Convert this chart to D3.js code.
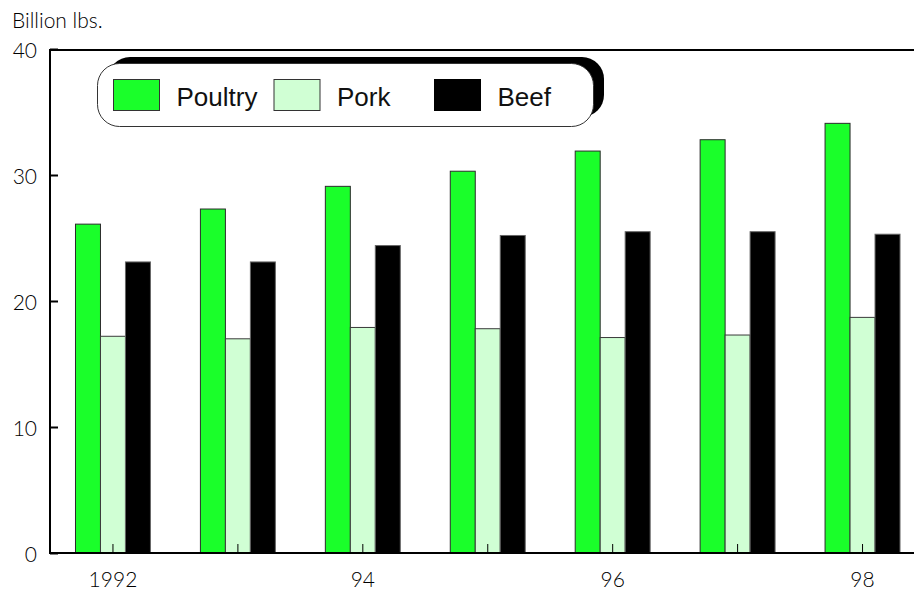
<!DOCTYPE html>
<html>
<head>
<meta charset="utf-8">
<script src="https://cdn.jsdelivr.net/npm/d3@7"></script>
<style>
  html, body { margin: 0; padding: 0; background: #fff; }
  svg { display: block; }
</style>
</head>
<body>
<svg id="chart" width="914" height="590"></svg>
<script>
// U.S. meat production, billion lbs.
const years = [1992, 1993, 1994, 1995, 1996, 1997, 1998];
const yearLabels = ["1992", "", "94", "", "96", "", "98"];
const seriesNames = ["Poultry", "Pork", "Beef"];
const poultry = [26.1, 27.3, 29.1, 30.3, 31.9, 32.8, 34.1];
const pork = [17.2, 17.0, 17.9, 17.8, 17.1, 17.3, 18.7];
const beef = [23.1, 23.1, 24.4, 25.2, 25.5, 25.5, 25.3];
const yTicks = [0, 10, 20, 30, 40];

const seriesValues = { Poultry: poultry, Pork: pork, Beef: beef };
const fills = { Poultry: "#1aff2a", Pork: "#d0ffd4", Beef: "#000000" };
const strokes = { Poultry: "#2b2b2b", Pork: "#3a3a3a", Beef: "#666666" };

const svg = d3.select("#chart");
const plotLeft = 50, plotTop = 50, plotBottom = 553, plotRight = 914;

const y = d3.scaleLinear().domain([0, 40]).range([plotBottom, 49]);
const x0 = d3.scaleBand().domain(years).range([50.5, 925])
  .paddingInner(0.4).paddingOuter(0.2);
const x1 = d3.scaleBand().domain(seriesNames).range([0, x0.bandwidth()]);

const tickFont = "Lato, 'DejaVu Sans', sans-serif";

// Unit label
svg.append("text")
  .attr("x", 12).attr("y", 28)
  .attr("font-family", tickFont).attr("font-size", 21).attr("font-weight", 300)
  .attr("fill", "#000")
  .text("Billion lbs.");

// Bars
const groups = svg.append("g").selectAll("g")
  .data(years)
  .join("g")
  .attr("transform", d => `translate(${x0(d)},0)`);

groups.selectAll("rect")
  .data((d, i) => seriesNames.map(s => ({ s, v: seriesValues[s][i] })))
  .join("rect")
  .attr("x", d => x1(d.s))
  .attr("y", d => y(d.v))
  .attr("width", x1.bandwidth())
  .attr("height", d => y(0) - y(d.v))
  .attr("fill", d => fills[d.s])
  .attr("stroke", d => strokes[d.s])
  .attr("stroke-width", 1);

// Y axis (ticks pointing inward)
const yAxis = svg.append("g")
  .attr("transform", `translate(${plotLeft},0)`)
  .call(d3.axisLeft(y).tickValues(yTicks).tickSize(-8).tickPadding(13));
yAxis.select(".domain").remove();
yAxis.selectAll(".tick line").attr("stroke", "#000").attr("stroke-width", 2);
yAxis.selectAll(".tick text")
  .attr("font-family", tickFont).attr("font-size", 21).attr("font-weight", 300)
  .attr("fill", "#000").attr("dy", "0.42em");

// X axis (ticks pointing inward, at group centres)
const xAxis = svg.append("g")
  .attr("transform", `translate(0,${plotBottom})`)
  .call(d3.axisBottom(x0).tickSize(-9).tickPadding(19)
    .tickFormat((d, i) => yearLabels[i]));
xAxis.select(".domain").remove();
xAxis.selectAll(".tick line").attr("stroke", "#000").attr("stroke-width", 1);
xAxis.selectAll(".tick text")
  .attr("font-family", tickFont).attr("font-size", 21).attr("font-weight", 300)
  .attr("fill", "#000");

// Frame lines
const frame = svg.append("g").attr("stroke", "#000").attr("stroke-width", 2).attr("fill", "none");
frame.append("line").attr("x1", plotLeft).attr("y1", plotTop).attr("x2", plotRight).attr("y2", plotTop);
frame.append("line").attr("x1", plotLeft).attr("y1", plotTop - 1).attr("x2", plotLeft).attr("y2", plotBottom + 1);
frame.append("line").attr("x1", plotLeft - 1).attr("y1", plotBottom).attr("x2", plotRight).attr("y2", plotBottom);

// Legend with drop shadow
const legend = svg.append("g");
legend.append("rect")
  .attr("x", 108).attr("y", 57).attr("width", 496).attr("height", 60)
  .attr("rx", 22).attr("ry", 22)
  .attr("fill", "#000");
legend.append("rect")
  .attr("x", 97.5).attr("y", 63.5).attr("width", 496).attr("height", 63)
  .attr("rx", 22).attr("ry", 22)
  .attr("fill", "#fff").attr("stroke", "#333").attr("stroke-width", 1);

const items = legend.selectAll("g.item")
  .data(seriesNames)
  .join("g")
  .attr("class", "item")
  .attr("transform", (d, i) => `translate(${113.5 + i * 160.5},79.5)`);
items.append("rect")
  .attr("width", 46).attr("height", 31)
  .attr("fill", d => fills[d])
  .attr("stroke", d => d === "Beef" ? "#000" : "#333")
  .attr("stroke-width", 1);
items.append("text")
  .attr("x", 63).attr("y", 26)
  .attr("font-family", "'Liberation Sans', Arial, sans-serif")
  .attr("font-size", 26)
  .attr("fill", "#111")
  .text(d => d);
</script>
</body>
</html>
